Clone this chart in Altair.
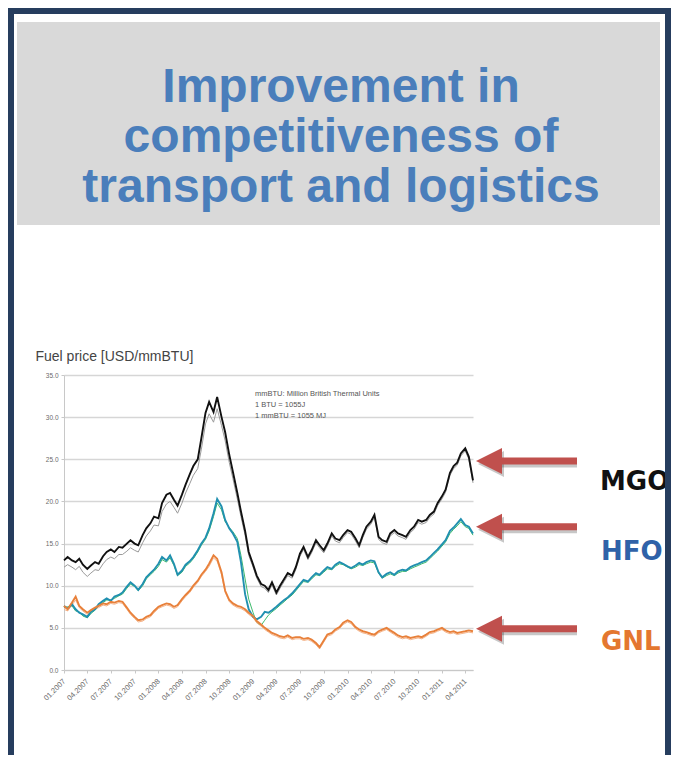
import altair as alt
import pandas as pd

# ---------------- data ----------------
series_start = "2007-01-01"   # semi-monthly observations (1st and 15th)
n_points = 105

mgo = [13.0, 13.4, 13.0, 12.8, 13.2, 12.5, 12.0, 12.4, 12.8, 12.6,
       13.5, 14.0, 14.3, 14.0, 14.6, 14.5, 15.0, 15.4, 15.0, 14.8,
       16.0, 16.8, 17.4, 18.2, 18.0, 19.8, 20.8, 21.0, 20.2, 19.5,
       20.8, 22.0, 23.2, 24.2, 25.0, 27.5, 30.5, 31.8, 30.6, 32.4,
       30.0, 28.2, 25.5, 23.5, 21.0, 18.8, 16.5, 14.0, 12.5, 11.2,
       10.2, 10.0, 9.5, 10.4, 9.2, 10.0, 10.8, 11.5, 11.2, 12.2,
       13.8, 14.6, 13.4, 14.2, 15.4, 14.8, 14.2, 15.0, 16.2, 15.6,
       15.4, 16.0, 16.6, 16.4, 15.6, 14.8, 16.0, 17.0, 17.6, 18.4,
       15.8, 15.4, 15.2, 16.2, 16.6, 16.2, 16.0, 15.8, 16.6, 17.0,
       17.8, 17.6, 17.8, 18.4, 18.8, 19.8, 20.6, 21.4, 23.4, 24.2,
       24.6, 25.7, 26.3, 25.3, 22.5]
mgo_ref = [12.2, 12.5, 12.2, 11.9, 12.3, 11.6, 11.1, 11.5, 11.9, 11.8,
           12.6, 13.1, 13.4, 13.2, 13.7, 13.7, 14.1, 14.5, 14.2, 14.0,
           15.1, 15.9, 16.5, 17.2, 17.1, 18.8, 19.7, 20.0, 19.3, 18.6,
           19.8, 21.0, 22.1, 23.1, 23.9, 26.2, 29.2, 30.4, 29.4, 31.0,
           29.0, 27.2, 24.6, 22.7, 20.3, 18.2, 16.0, 13.6, 12.2, 10.9,
           9.9, 9.7, 9.2, 10.1, 8.9, 9.7, 10.5, 11.2, 10.9, 11.9,
           13.5, 14.3, 13.1, 13.9, 15.1, 14.5, 13.9, 14.7, 15.9, 15.3,
           15.1, 15.7, 16.3, 16.1, 15.3, 14.5, 15.7, 16.7, 17.3, 18.1,
           15.5, 15.1, 14.9, 15.9, 16.3, 15.9, 15.7, 15.5, 16.3, 16.7,
           17.5, 17.3, 17.5, 18.1, 18.5, 19.5, 20.3, 21.1, 23.1, 23.9,
           24.3, 25.4, 26.0, 25.0, 22.2]
hfo = [7.6, 7.3, 7.8, 7.2, 6.8, 6.6, 6.3, 6.9, 7.2, 7.8,
       8.2, 8.5, 8.2, 8.7, 8.9, 9.2, 9.9, 10.4, 10.0, 9.5,
       10.2, 11.0, 11.5, 11.9, 12.6, 13.4, 13.0, 13.6, 12.6, 11.3,
       11.8, 12.5, 12.9, 13.4, 14.2, 15.0, 15.7, 16.8, 18.6, 20.3,
       19.4, 17.8, 16.8, 16.2, 15.2, 12.8, 9.0, 7.2, 6.3, 6.0,
       6.3, 6.9, 6.8, 7.1, 7.5, 7.9, 8.3, 8.6, 9.1, 9.6,
       10.2, 10.7, 10.5, 11.0, 11.5, 11.3, 11.8, 12.2, 12.0, 12.5,
       12.8, 12.6, 12.3, 12.1, 12.4, 12.7, 12.5, 12.8, 13.0, 12.9,
       11.6, 11.0, 11.4, 11.6, 11.3, 11.7, 11.9, 11.8, 12.2, 12.4,
       12.6, 12.8, 13.0, 13.4, 13.9, 14.3, 14.9, 15.4, 16.5, 16.9,
       17.4, 17.9, 17.2, 17.0, 16.2]
hfo_alt = [7.4, 7.5, 7.6, 7.0, 6.9, 6.4, 6.2, 6.7, 7.1, 7.6,
           8.0, 8.3, 8.3, 8.5, 8.8, 9.0, 9.7, 10.2, 9.9, 9.4,
           10.0, 10.8, 11.3, 11.7, 12.3, 13.1, 12.8, 13.3, 12.4, 11.2,
           11.6, 12.3, 12.7, 13.2, 14.0, 14.8, 15.5, 16.5, 18.2, 19.8,
           19.0, 17.6, 16.9, 16.4, 15.6, 13.6, 10.8, 8.4, 6.8, 5.6,
           5.3, 5.9, 6.5, 6.9, 7.3, 7.7, 8.1, 8.5, 8.9, 9.4,
           10.0, 10.5, 10.4, 10.8, 11.3, 11.2, 11.6, 12.0, 11.9, 12.3,
           12.6, 12.5, 12.2, 12.0, 12.2, 12.5, 12.4, 12.6, 12.8, 12.7,
           11.5, 10.9, 11.2, 11.4, 11.2, 11.5, 11.7, 11.7, 12.0, 12.2,
           12.4, 12.6, 12.8, 13.2, 13.7, 14.1, 14.7, 15.2, 16.2, 16.7,
           17.1, 17.6, 17.0, 16.8, 16.0]
gnl = [7.6, 7.2, 8.0, 8.7, 7.6, 7.2, 6.8, 7.1, 7.4, 7.6,
       7.9, 7.8, 8.1, 8.0, 8.2, 8.1, 7.4, 6.8, 6.3, 5.9,
       6.0, 6.3, 6.5, 7.0, 7.5, 7.7, 7.9, 7.8, 7.5, 7.7,
       8.4, 8.9, 9.4, 10.0, 10.6, 11.3, 11.9, 12.6, 13.6, 13.2,
       11.6, 9.4, 8.3, 7.9, 7.6, 7.5, 7.2, 6.8, 6.4, 5.8,
       5.4, 5.0, 4.7, 4.4, 4.2, 4.0, 3.9, 4.1, 3.8, 3.9,
       3.9, 3.7, 3.8, 3.6, 3.2, 2.7, 3.5, 4.2, 4.4, 4.8,
       5.1, 5.6, 5.9, 5.7, 5.1, 4.8, 4.6, 4.5, 4.3, 4.2,
       4.6, 4.8, 5.0, 4.7, 4.4, 4.1, 3.9, 4.0, 3.8, 3.9,
       4.0, 3.9, 4.2, 4.5, 4.6, 4.8, 5.0, 4.7, 4.5, 4.6,
       4.4, 4.5, 4.6, 4.7, 4.6]
gnl_alt = [7.2, 7.0, 7.7, 8.3, 7.4, 7.0, 6.6, 6.9, 7.2, 7.4,
           7.7, 7.6, 7.9, 7.8, 8.0, 7.9, 7.2, 6.6, 6.1, 5.7,
           5.8, 6.1, 6.3, 6.8, 7.3, 7.5, 7.7, 7.6, 7.3, 7.5,
           8.2, 8.7, 9.2, 9.8, 10.4, 11.1, 11.7, 12.3, 13.3, 12.9,
           11.3, 9.2, 8.1, 7.7, 7.4, 7.3, 7.0, 6.6, 6.2, 5.6,
           5.2, 4.8, 4.5, 4.2, 4.0, 3.8, 3.7, 3.9, 3.6, 3.7,
           3.7, 3.5, 3.6, 3.4, 3.0, 2.5, 3.3, 4.0, 4.2, 4.6,
           4.9, 5.4, 5.7, 5.5, 4.9, 4.6, 4.4, 4.3, 4.1, 4.0,
           4.4, 4.6, 4.8, 4.5, 4.2, 3.9, 3.7, 3.8, 3.6, 3.7,
           3.8, 3.7, 4.0, 4.3, 4.4, 4.6, 4.8, 4.5, 4.3, 4.4,
           4.2, 4.3, 4.4, 4.5, 4.4]

y_ticks = [0, 5, 10, 15, 20, 25, 30, 35]
x_tick_years = [2007] * 4 + [2008] * 4 + [2009] * 4 + [2010] * 4 + [2011] * 2
x_tick_months = [1, 4, 7, 10] * 4 + [1, 4]
x_domain_start = (2007, 1)
x_domain_end = (2011, 5)

title_lines = ["Improvement in", "competitiveness of", "transport and logistics"]
note_lines = ["mmBTU: Million British Thermal Units", "1 BTU = 1055J", "1 mmBTU = 1055 MJ"]
y_title = "Fuel price [USD/mmBTU]"
fuel_names = ["MGO", "HFO", "GNL"]
arrow_levels = [24.8, 17.0, 4.9]

main_names = ["MGO", "HFO", "GNL"]
main_colors = ["#111111", "#2190b0", "#e8803a"]
comp_names = ["MGO ref", "HFO alt", "GNL alt"]
comp_colors = ["#9a9a9a", "#3dbb6c", "#f5b48a"]

# ---------------- frames ----------------
dates = pd.date_range(series_start, periods=n_points, freq="SMS").strftime("%Y-%m-%d")
main_df = pd.concat([
    pd.DataFrame({"date": dates, "value": v, "series": n})
    for n, v in zip(main_names, [mgo, hfo, gnl])
])
comp_df = pd.concat([
    pd.DataFrame({"date": dates, "value": v, "series": n})
    for n, v in zip(comp_names, [mgo_ref, hfo_alt, gnl_alt])
])
arrow_df = pd.DataFrame({"level": arrow_levels, "name": fuel_names})
one = pd.DataFrame({"k": [0]})

xs = alt.Scale(domain=[alt.DateTime(year=x_domain_start[0], month=x_domain_start[1], date=1),
                       alt.DateTime(year=x_domain_end[0], month=x_domain_end[1], date=1)],
               nice=False)
ys = alt.Scale(domain=[0, 35], nice=False, zero=True)

x_axis = alt.Axis(
    values=[alt.DateTime(year=y, month=m, date=1) for y, m in zip(x_tick_years, x_tick_months)],
    format="%m.%Y", labelAngle=315, labelAlign="right", labelBaseline="middle",
    labelFontSize=7.5, labelColor="#6a6a6a", labelFont="Liberation Sans",
    labelPadding=7, grid=False, domainColor="#c8c8c8", tickColor="#c8c8c8",
    tickSize=3, title=None, labelOverlap=False)
y_axis = alt.Axis(
    values=y_ticks, format=".1f", labelFontSize=6.5, labelColor="#6a6a6a",
    labelFont="Liberation Sans", labelPadding=3, domainColor="#c8c8c8",
    tickColor="#c8c8c8", tickSize=3, gridColor="#d6d6d6", gridWidth=1.5,
    title=y_title, titleAngle=0, titleX=-29, titleY=-15, titleAlign="left",
    titleBaseline="alphabetic", titleFontSize=14, titleFontWeight="normal",
    titleColor="#444444", titleFont="Liberation Sans")

NAVY = "#263d5e"
RED = "#c0504d"

dec = alt.Chart(one)

border_left = dec.mark_rect(color=NAVY).encode(
    x=alt.value(-56), x2=alt.value(-50), y=alt.value(-367), y2=alt.value(380))
border_top = dec.mark_rect(color=NAVY).encode(
    x=alt.value(-56), x2=alt.value(607), y=alt.value(-367), y2=alt.value(-361))
border_right = dec.mark_rect(color=NAVY).encode(
    x=alt.value(601), x2=alt.value(607), y=alt.value(-367), y2=alt.value(380))

title_box = dec.mark_rect(color="#d9d9d9").encode(
    x=alt.value(-47), x2=alt.value(596), y=alt.value(-353), y2=alt.value(-150))
title_text = dec.mark_text(
    font="Liberation Sans", fontSize=48, fontWeight="bold", color="#4a7ebb",
    align="center", baseline="alphabetic", lineHeight=50).encode(
    x=alt.value(277), y=alt.value(-273), text=alt.value(title_lines))

note_text = dec.mark_text(
    font="Liberation Sans", fontSize=7.5, color="#555555", align="left",
    baseline="middle", lineHeight=11).encode(
    x=alt.value(191), y=alt.value(19), text=alt.value(note_lines))

X = alt.X("date:T", scale=xs, axis=x_axis)
Y = alt.Y("value:Q", scale=ys, axis=y_axis)

lines_comp = alt.Chart(comp_df).mark_line(strokeWidth=1).encode(
    x=X, y=Y,
    color=alt.Color("series:N", scale=alt.Scale(domain=comp_names, range=comp_colors), legend=None),
)
lines_main = alt.Chart(main_df).mark_line(strokeWidth=1.9).encode(
    x=X, y=Y,
    stroke=alt.Stroke("series:N", scale=alt.Scale(domain=main_names, range=main_colors), legend=None),
)

head_shape = "M -1 0 L 1 -1 L 1 1 Z"
arrows = alt.Chart(arrow_df)
YA = alt.Y("level:Q", scale=ys, axis=y_axis)
shaft_shadow = arrows.mark_rule(color="#000000", opacity=0.22, strokeWidth=7, xOffset=2, yOffset=3).encode(
    x=alt.value(430), x2=alt.value(513), y=YA)
head_shadow = arrows.mark_point(shape=head_shape, filled=True, color="#000000", opacity=0.22,
                                size=676, xOffset=2, yOffset=3).encode(
    x=alt.value(425), y=YA)
shaft = arrows.mark_rule(color=RED, strokeWidth=7).encode(
    x=alt.value(430), x2=alt.value(513), y=YA)
head = arrows.mark_point(shape=head_shape, filled=True, color=RED, opacity=1, size=676).encode(
    x=alt.value(425), y=YA)

label_font = dict(font="DejaVu Sans", fontSize=26, fontWeight="bold", align="left", baseline="alphabetic")
lab_mgo = dec.mark_text(color="#111111", **label_font).encode(
    x=alt.value(536), y=alt.value(115), text=alt.value(fuel_names[0]))
lab_hfo = dec.mark_text(color="#2f62a8", **label_font).encode(
    x=alt.value(537), y=alt.value(185), text=alt.value(fuel_names[1]))
lab_gnl = dec.mark_text(color="#e4772f", **label_font).encode(
    x=alt.value(537), y=alt.value(275), text=alt.value(fuel_names[2]))

chart = alt.layer(
    title_box, title_text, lines_comp, lines_main, note_text,
    shaft_shadow, head_shadow, shaft, head,
    lab_mgo, lab_hfo, lab_gnl,
    border_left, border_top, border_right,
).resolve_scale(
    color="independent", stroke="independent"
).properties(
    width=409, height=295,
    padding={"left": 56, "top": 367, "right": 198, "bottom": 85},
    autosize=alt.AutoSizeParams(type="none"),
    background="white",
).configure_view(stroke=None)

chart.save("out.html", embed_options={"renderer": "svg", "actions": False})
